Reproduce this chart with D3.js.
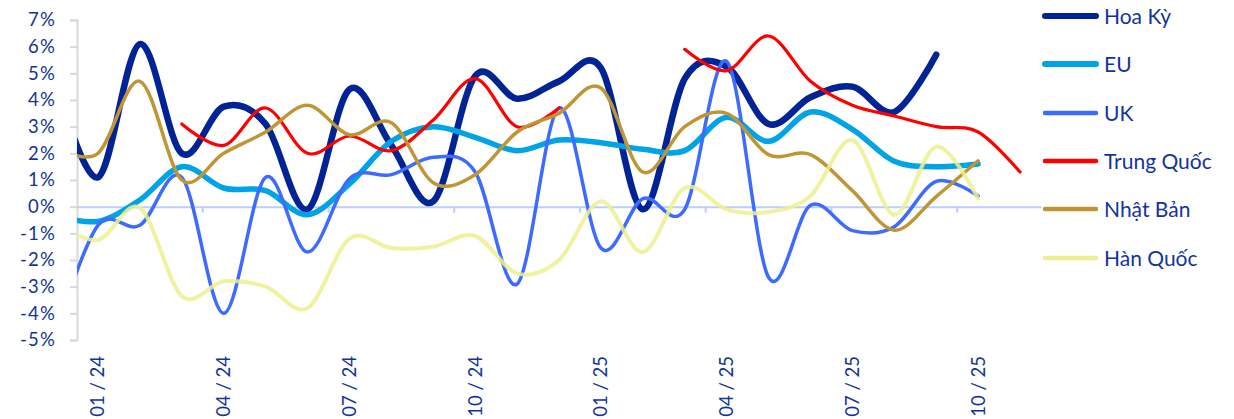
<!DOCTYPE html>
<html>
<head>
<meta charset="utf-8">
<script src="https://cdn.jsdelivr.net/npm/d3@7"></script>
<style>
  html, body { margin: 0; padding: 0; background: #fff; }
  svg { display: block; font-family: Lato, "Noto Sans", sans-serif; }
</style>
</head>
<body>
<svg id="chart" width="1234" height="419"></svg>
<script>
// Months (first one, 12/23, lies just left of the visible plot and is clipped)
const categories = ["12/23","01/24","02/24","03/24","04/24","05/24","06/24","07/24","08/24","09/24","10/24","11/24","12/24",
  "01/25","02/25","03/25","04/25","05/25","06/25","07/25","08/25","09/25","10/25","11/25"];
const tickLabels = ["01 / 24","04 / 24","07 / 24","10 / 24","01 / 25","04 / 25","07 / 25","10 / 25"];
const yTicks = [-5,-4,-3,-2,-1,0,1,2,3,4,5,6,7];

const seriesNames = ["Hoa Kỳ","EU","UK","Trung Quốc","Nhật Bản","Hàn Quốc"];
const hoaKy     = [4.7, 1.1, 6.1, 2.0, 3.75, 3.1, -0.1, 4.4, 2.3, 0.2, 4.9, 4.05, 4.7, 5.2, -0.1, 4.8, 5.25, 3.1, 4.1, 4.5, 3.55, 5.7, null, null];
const eu        = [-0.34, -0.55, 0.25, 1.5, 0.7, 0.6, -0.3, 0.85, 2.45, 3.0, 2.6, 2.1, 2.5, 2.4, 2.15, 2.1, 3.35, 2.45, 3.55, 2.9, 1.7, 1.5, 1.6, null];
const uk        = [-4.7, -0.7, -0.7, 1.1, -4.0, 1.1, -1.7, 1.05, 1.2, 1.85, 1.3, -2.9, 3.7, -1.55, 0.3, -0.1, 5.45, -2.65, 0.05, -0.9, -0.75, 0.95, 0.4, null];
const trungQuoc = [null, null, null, 3.1, 2.3, 3.7, 2.0, 2.65, 2.1, 3.25, 4.8, 3.0, 3.7, null, null, 5.9, 5.1, 6.4, 4.7, 3.8, 3.4, 3.0, 2.8, 1.3];
const nhatBan   = [2.24, 2.0, 4.7, 1.0, 2.0, 2.8, 3.8, 2.7, 3.15, 0.9, 1.2, 2.8, 3.5, 4.45, 1.3, 3.0, 3.5, 1.95, 1.95, 0.6, -0.88, 0.38, 1.72, null];
const hanQuoc   = [-0.6, -1.25, -0.05, -3.35, -2.8, -3.0, -3.8, -1.2, -1.55, -1.5, -1.1, -2.5, -2.0, 0.2, -1.7, 0.7, -0.1, -0.2, 0.4, 2.5, -0.3, 2.25, 0.3, null];

const seriesValues = [hoaKy, eu, uk, trungQuoc, nhatBan, hanQuoc];
const colors  = ["#002395", "#00a3e6", "#3d6bff", "#ff0000", "#c09533", "#ecf08e"];
const widths  = [6.5, 5.5, 3.5, 3.2, 3.5, 4];
const opac    = [1, 1, 1, 1, 1, 0.85];
const textColor = "#12349a";

const svg = d3.select("#chart");
const plotL = 77, plotR = 1041, plotT = 20, plotB = 340;

const visible = categories.slice(1);
const band = d3.scaleBand().domain(visible).range([plotL, plotR]).padding(0);
const x = i => plotL + band.step() * (i - 0.5); // i = index in categories (0 = hidden 12/23)
const y = d3.scaleLinear().domain([-5, 7]).range([plotB, plotT]);

svg.append("defs").append("clipPath").attr("id", "plotClip")
  .append("rect").attr("x", plotL).attr("y", 0).attr("width", plotR - plotL + 20).attr("height", 419);

// Y axis
const yAxis = svg.append("g").attr("transform", `translate(${plotL},0)`)
  .call(d3.axisLeft(y).tickValues(yTicks).tickFormat(d => d + "%").tickSize(7).tickPadding(14));
yAxis.select(".domain").attr("stroke", "#d9d9d9").attr("stroke-width", 2);
yAxis.selectAll(".tick line").attr("stroke", "#d9d9d9").attr("stroke-width", 2);
yAxis.selectAll(".tick text").attr("fill", textColor)
  .style("font-size", "18.5px").style("letter-spacing", "1.2px").style("font-family", "Lato, sans-serif");

// Zero baseline with category tick marks
const xAxis = svg.append("g").attr("transform", `translate(0,${y(0)})`)
  .call(d3.axisBottom(band).tickValues(visible.filter((d, i) => i % 3 === 0)).tickSize(0).tickFormat(""));
xAxis.select(".domain").attr("stroke", "#bccdff").attr("stroke-width", 2);
xAxis.selectAll(".tick").remove();
const boundaryIdx = d3.range(3, visible.length, 3);
xAxis.selectAll("line.btick").data(boundaryIdx).join("line")
  .attr("class", "btick")
  .attr("x1", i => band(visible[i])).attr("x2", i => band(visible[i]))
  .attr("y1", 0).attr("y2", 6).attr("stroke", "#bccdff").attr("stroke-width", 2);

// Rotated month labels
const labelCats = visible.filter((d, i) => i % 3 === 0);
svg.append("g").selectAll("text").data(labelCats).join("text")
  .attr("transform", (d, i) => `translate(${band(d) + band.bandwidth() / 2 + 6.5},356) rotate(-90)`)
  .attr("text-anchor", "end")
  .attr("fill", textColor)
  .style("font-size", "18.5px")
  .text((d, i) => tickLabels[i]);

// Lines
const line = d3.line()
  .defined(d => d.v !== null)
  .x(d => x(d.i))
  .y(d => y(d.v))
  .curve(d3.curveCardinal.tension(0));

const plot = svg.append("g").attr("clip-path", "url(#plotClip)");
seriesValues.forEach((vals, s) => {
  const pts = vals.map((v, i) => ({ i, v }));
  plot.append("path")
    .attr("d", line(pts))
    .attr("fill", "none")
    .attr("stroke", colors[s])
    .attr("stroke-width", widths[s])
    .attr("stroke-linecap", "round")
    .attr("stroke-linejoin", "round")
    .attr("opacity", opac[s]);
});

// Legend
const legendY = [16, 64, 113, 161, 209, 258];
const lg = svg.append("g");
seriesNames.forEach((name, s) => {
  lg.append("line")
    .attr("x1", 1045).attr("x2", 1096)
    .attr("y1", legendY[s]).attr("y2", legendY[s])
    .attr("stroke", colors[s]).attr("stroke-width", s < 2 ? 6 : 4.5)
    .attr("stroke-linecap", "round");
  lg.append("text")
    .attr("x", 1104).attr("y", legendY[s]).attr("dy", "0.36em")
    .attr("fill", textColor)
    .style("font-size", "21px")
    .text(name);
});
</script>
</body>
</html>
